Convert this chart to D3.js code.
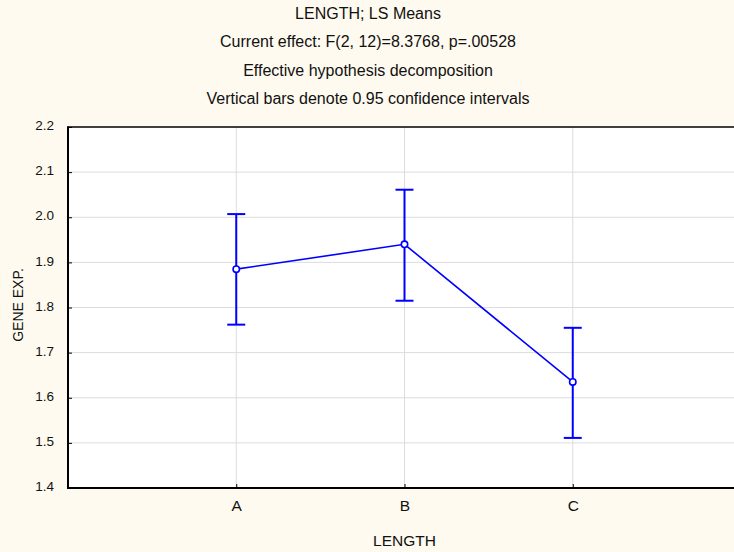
<!DOCTYPE html>
<html>
<head>
<meta charset="utf-8">
<script src="https://cdn.jsdelivr.net/npm/d3@7"></script>
<style>
  body { margin: 0; background: #fefaef; }
  svg { display: block; font-family: Arial, "Liberation Sans", sans-serif; }
</style>
</head>
<body>
<svg id="chart" width="734" height="552"></svg>
<script>
// LS means with 0.95 confidence intervals
var categories = ["A", "B", "C"];
var means = [1.885, 1.940, 1.635];
var ciLow = [1.762, 1.815, 1.511];
var ciHigh = [2.007, 2.061, 1.755];
var yTicks = [1.4, 1.5, 1.6, 1.7, 1.8, 1.9, 2.0, 2.1, 2.2];
var titles = ["LENGTH; LS Means",
  "Current effect: F(2, 12)=8.3768, p=.00528",
  "Effective hypothesis decomposition",
  "Vertical bars denote 0.95 confidence intervals"];

var svg = d3.select("#chart");
var width = +svg.attr("width");
var font = "Arial, 'Liberation Sans', sans-serif";

// categories sit at 1..3 on a 0..4 axis; the right end runs past the window
var x = d3.scaleLinear().domain([0, categories.length + 1]).range([68, 741]);
var y = d3.scaleLinear().domain([1.4, 2.2]).range([488, 127]);

// titles
svg.selectAll(".title")
  .data(titles)
  .enter().append("text")
  .attr("class", "title")
  .attr("x", width / 2 + 1)
  .attr("y", function(d, i) { return 19 + i * 28.4; })
  .attr("text-anchor", "middle")
  .attr("font-size", "16px")
  .attr("fill", "#111")
  .text(function(d) { return d; });

// plot background
svg.append("rect")
  .attr("x", x(0)).attr("y", y(2.2))
  .attr("width", x(4) - x(0)).attr("height", y(1.4) - y(2.2))
  .attr("fill", "#fff");

// grid
svg.append("g").selectAll("line")
  .data(yTicks.slice(1, -1))
  .enter().append("line")
  .attr("x1", x(0)).attr("x2", x(4))
  .attr("y1", function(d) { return y(d); })
  .attr("y2", function(d) { return y(d); })
  .attr("stroke", "#dcdcdc").attr("stroke-width", 1);

svg.append("g").selectAll("line")
  .data(categories)
  .enter().append("line")
  .attr("x1", function(d, i) { return x(i + 1); })
  .attr("x2", function(d, i) { return x(i + 1); })
  .attr("y1", y(2.2)).attr("y2", y(1.4))
  .attr("stroke", "#dcdcdc").attr("stroke-width", 1);

// axes
var yAxis = svg.append("g")
  .attr("transform", "translate(" + x(0) + ",0)")
  .call(d3.axisRight(y).tickValues(yTicks).tickSize(4).tickFormat(d3.format(".1f")));
yAxis.select(".domain").remove();
yAxis.selectAll(".tick line").attr("stroke", "#000");
yAxis.selectAll(".tick text")
  .attr("x", -14).attr("dy", "0.2em").attr("text-anchor", "end")
  .attr("font-size", "13.5px").attr("fill", "#111")
  .attr("font-family", font);

var xAxis = svg.append("g")
  .attr("transform", "translate(0," + y(1.4) + ")")
  .call(d3.axisTop(x).tickValues([1, 2, 3]).tickSize(4)
    .tickFormat(function(d) { return categories[d - 1]; }));
xAxis.select(".domain").remove();
xAxis.selectAll(".tick line").attr("stroke", "#000");
xAxis.selectAll(".tick text")
  .attr("y", 23).attr("dy", 0)
  .attr("font-size", "15.5px").attr("fill", "#111")
  .attr("font-family", font);

// frame: top, left, bottom
svg.append("line")
  .attr("x1", x(0)).attr("x2", x(4)).attr("y1", y(2.2)).attr("y2", y(2.2))
  .attr("stroke", "#000").attr("stroke-width", 1.5);
svg.append("line")
  .attr("x1", x(0)).attr("x2", x(0)).attr("y1", y(2.2) - 0.75).attr("y2", y(1.4) + 1)
  .attr("stroke", "#000").attr("stroke-width", 2);
svg.append("line")
  .attr("x1", x(0) - 1).attr("x2", x(4)).attr("y1", y(1.4)).attr("y2", y(1.4))
  .attr("stroke", "#000").attr("stroke-width", 2);

// axis titles
svg.append("text")
  .attr("transform", "translate(23,305) rotate(-90)")
  .attr("text-anchor", "middle")
  .attr("font-size", "14px").attr("fill", "#111")
  .text("GENE EXP.");

svg.append("text")
  .attr("x", x(2)).attr("y", 546)
  .attr("text-anchor", "middle")
  .attr("font-size", "15.5px").attr("fill", "#111")
  .text("LENGTH");

// error bars
var blue = "#0000ff";
var eb = svg.append("g").selectAll("g")
  .data(categories)
  .enter().append("g");

eb.append("line")
  .attr("x1", function(d, i) { return x(i + 1); })
  .attr("x2", function(d, i) { return x(i + 1); })
  .attr("y1", function(d, i) { return y(ciLow[i]); })
  .attr("y2", function(d, i) { return y(ciHigh[i]); })
  .attr("stroke", blue).attr("stroke-width", 2);

eb.append("line")
  .attr("x1", function(d, i) { return x(i + 1) - 9; })
  .attr("x2", function(d, i) { return x(i + 1) + 9; })
  .attr("y1", function(d, i) { return y(ciHigh[i]); })
  .attr("y2", function(d, i) { return y(ciHigh[i]); })
  .attr("stroke", blue).attr("stroke-width", 2);

eb.append("line")
  .attr("x1", function(d, i) { return x(i + 1) - 9; })
  .attr("x2", function(d, i) { return x(i + 1) + 9; })
  .attr("y1", function(d, i) { return y(ciLow[i]); })
  .attr("y2", function(d, i) { return y(ciLow[i]); })
  .attr("stroke", blue).attr("stroke-width", 2);

// mean line
var line = d3.line()
  .x(function(d, i) { return x(i + 1); })
  .y(function(d) { return y(d); });

svg.append("path")
  .datum(means)
  .attr("d", line)
  .attr("fill", "none")
  .attr("stroke", blue).attr("stroke-width", 1.6);

svg.append("g").selectAll("circle")
  .data(means)
  .enter().append("circle")
  .attr("cx", function(d, i) { return x(i + 1); })
  .attr("cy", function(d) { return y(d); })
  .attr("r", 3.2)
  .attr("fill", "#fff")
  .attr("stroke", blue).attr("stroke-width", 1.6);
</script>
</body>
</html>
